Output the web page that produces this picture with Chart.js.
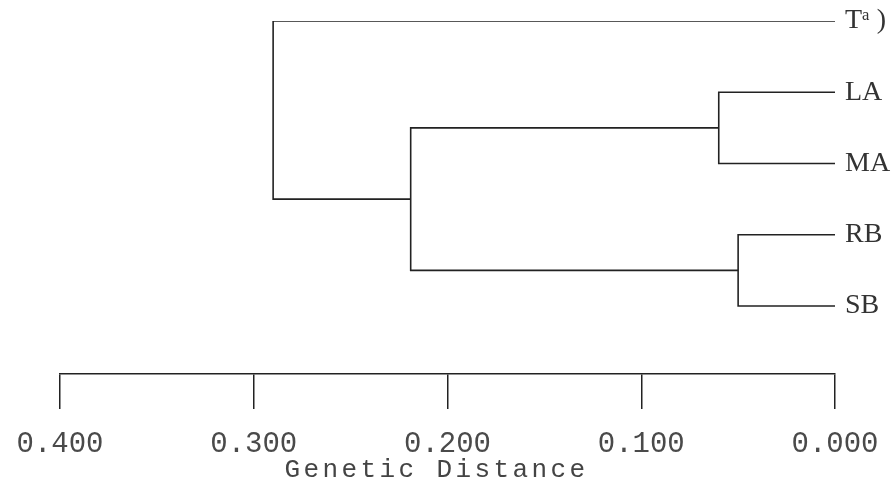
<!DOCTYPE html>
<html>
<head>
<meta charset="utf-8">
<script src="https://cdn.jsdelivr.net/npm/chart.js@4.4.1/dist/chart.umd.min.js"></script>
<style>
  body { margin: 0; background: #fff; }
  #wrap { width: 893px; height: 498px; position: relative; }
</style>
</head>
<body>
<div id="wrap"><canvas id="tree"></canvas></div>
<script>
// leaves, top to bottom
const leafLabels = ['T\u1D43 )', 'LA', 'MA', 'RB', 'SB'];
// merges: node ids 0-4 are leaves, each merge makes a new node (5, 6, 7, 8)
const mergeLeft  = [1, 3, 5, 0];
const mergeRight = [2, 4, 6, 7];
const mergeDist  = [0.060, 0.050, 0.219, 0.290];
const distTicks  = [0.4, 0.3, 0.2, 0.1, 0.0];
const axisTitle  = 'Genetic Distance';

const lineColor = '#222';

// work out where each node sits
let nodeY = leafLabels.map((l, i) => i);
let nodeD = leafLabels.map(() => 0);
for (let i = 0; i < mergeDist.length; i++) {
  nodeY.push((nodeY[mergeLeft[i]] + nodeY[mergeRight[i]]) / 2);
  nodeD.push(mergeDist[i]);
}

// every branch is a little polyline: child -> elbow -> sibling
let datasets = [];
for (let i = 0; i < mergeDist.length; i++) {
  let a = mergeLeft[i], b = mergeRight[i], d = mergeDist[i];
  datasets.push({
    data: [
      {x: nodeD[a], y: nodeY[a]},
      {x: d, y: nodeY[a]},
      {x: d, y: nodeY[b]},
      {x: nodeD[b], y: nodeY[b]}
    ],
    showLine: true,
    borderColor: lineColor,
    borderWidth: 1.6,
    pointRadius: 0,
    fill: false
  });
}

// axis title drawn by hand so it can be letter spaced
const titlePlugin = {
  id: 'spacedTitle',
  afterDraw(chart) {
    const ctx = chart.ctx;
    const xs = chart.scales.x;
    ctx.save();
    ctx.font = '26px "Liberation Mono"';
    ctx.letterSpacing = '3.4px';
    ctx.fillStyle = '#444';
    ctx.textAlign = 'center';
    ctx.textBaseline = 'alphabetic';
    ctx.fillText(axisTitle, (xs.left + xs.right) / 2 - 11, 477);
    ctx.restore();
  }
};

new Chart(document.getElementById('tree'), {
  type: 'scatter',
  data: { datasets: datasets },
  plugins: [titlePlugin],
  options: {
    responsive: true,
    maintainAspectRatio: false,
    animation: false,
    layout: { padding: { left: 60, top: 21, right: 0, bottom: 0 } },
    plugins: { legend: { display: false }, tooltip: { enabled: false } },
    scales: {
      x: {
        type: 'linear',
        reverse: true,
        min: 0,
        max: 0.4,
        afterBuildTicks: s => { s.ticks = distTicks.map(v => ({value: v})); },
        afterFit: s => { s.height = 124; s.paddingLeft = 0; s.paddingRight = 0; },
        grid: { drawOnChartArea: false, drawTicks: true, tickLength: 35, color: lineColor, lineWidth: 1.5 },
        border: { display: true, color: lineColor, width: 1.5 },
        ticks: {
          color: '#4a4a4a',
          font: { family: 'Liberation Mono', size: 29 },
          padding: 18,
          maxRotation: 0,
          callback: v => Number(v).toFixed(3)
        }
      },
      y: {
        type: 'linear',
        position: 'right',
        reverse: true,
        min: 0,
        max: 4.954,
        afterBuildTicks: s => { s.ticks = leafLabels.map((l, i) => ({value: i})); },
        afterFit: s => { s.width = 58; s.paddingTop = 0; s.paddingBottom = 0; },
        grid: { display: false },
        border: { display: false },
        ticks: {
          color: '#333',
          font: { family: 'Liberation Serif', size: 28 },
          padding: 2,
          callback: v => leafLabels[v]
        }
      }
    }
  }
});
</script>
</body>
</html>
